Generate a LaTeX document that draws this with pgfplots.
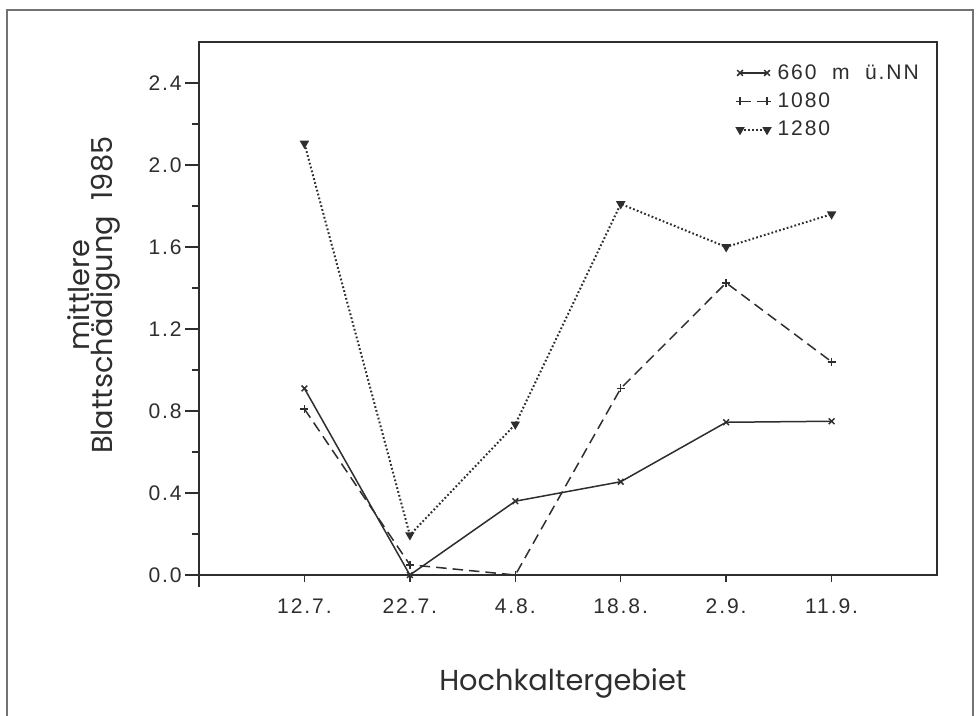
\documentclass[border=0pt]{standalone}
\usepackage{pgfplots}
\pgfplotsset{compat=1.18}
\usepackage{fontspec}
\setmainfont{Liberation Sans}[LetterSpace=9]
\newfontfamily\labelfont{Poppins}

\definecolor{ink}{HTML}{2E2E2E}

% data: mean leaf damage per sampling date, x = 0..5
\pgfplotstableread{
x  y
0  0.91
1  0.00
2  0.36
3  0.455
4  0.745
5  0.75
}\tabA
\pgfplotstableread{
x  y
0  0.81
1  0.05
2  0.00
3  0.91
4  1.425
5  1.04
}\tabB
\pgfplotstableread{
x  y
0  2.105
1  0.195
2  0.735
3  1.81
4  1.60
5  1.76
}\tabC

\begin{document}
\begin{tikzpicture}[x=0.2mm,y=0.2mm]
% page extent (977 x 715 units)
\useasboundingbox (0,0) rectangle (977,715);
% outer frame
\draw[line width=0.45mm,color=black!55] (7,-5) -- (7,705) -- (973,705) -- (973,-5);
\coordinate (origin) at (199,140);

\begin{axis}[
  at={(origin)}, anchor=south west,
  scale only axis, width=147.6mm, height=106.6mm,
  xmin=-1, xmax=6, ymin=0, ymax=2.6,
  clip=false,
  axis line style={ink, line width=0.35mm},
  xtick={0,...,5},
  minor xtick={0,...,5},
  major x tick style={draw=none},
  xticklabels={12.7.,22.7.,4.8.,18.8.,2.9.,11.9.},
  ytick={0,0.4,...,2.4},
  minor ytick={0.2,0.6,...,2.2},
  /pgf/number format/assume math mode=true,
  yticklabel style={/pgf/number format/fixed, /pgf/number format/fixed zerofill,
    /pgf/number format/precision=1, inner sep=0.6mm},
  tick align=outside,
  xtick pos=bottom, ytick pos=left,
  major tick length=2.8mm, minor tick length=1.4mm,
  x tick style={ink, line width=0.3mm},
  y tick style={ink, line width=0.3mm},
  tick label style={font=\fontsize{12}{14}\selectfont, text=ink},
  xticklabel style={yshift=-0.8mm},
  xlabel={Hochkaltergebiet},
  xlabel style={font=\labelfont\fontsize{16.4}{18}\selectfont, text=ink,
    at={(axis description cs:0.493,-0.203)}, anchor=center},
  ylabel={\begin{tabular}{@{}c@{}}mittlere\\[-4pt]Blattschädigung\ \ 1985\end{tabular}},
  ylabel style={font=\labelfont\fontsize{16.4}{16}\selectfont, text=ink,
    at={(axis description cs:-0.142,0.525)}, anchor=center},
  legend style={draw=none, fill=none, at={(axis description cs:0.72,0.972)}, anchor=north west,
    font=\fontsize{12}{14}\selectfont, text=ink, row sep=0.8mm},
  legend cell align=left,
  legend image code/.code={\draw[#1] plot coordinates {(0mm,0mm) (5.4mm,0mm)};
    \path (6.6mm,0mm);},
]
\addplot[ink, line width=0.3mm, mark=x, mark size=2.3pt, mark options={solid, line width=0.3mm}]
  table[x=x,y=y] {\tabA};
\addlegendentry{660\ \ m\ \ ü.NN}
\addplot[ink, line width=0.3mm, dash pattern=on 2.1mm off 1.2mm, mark=+, mark size=2.3pt, mark options={solid, line width=0.3mm}]
  table[x=x,y=y] {\tabB};
\addlegendentry{1080}
\addplot[ink, line width=0.4mm, dash pattern=on 0.35mm off 0.45mm, mark=triangle*, mark size=2.0pt, mark options={solid, rotate=180, fill=ink}]
  table[x=x,y=y] {\tabC};
\addlegendentry{1280}
% left axis line runs slightly below the zero line
\draw[ink, line width=0.35mm] (axis cs:-1,0) -- (axis cs:-1,-0.06);
\end{axis}
\end{tikzpicture}
\end{document}
